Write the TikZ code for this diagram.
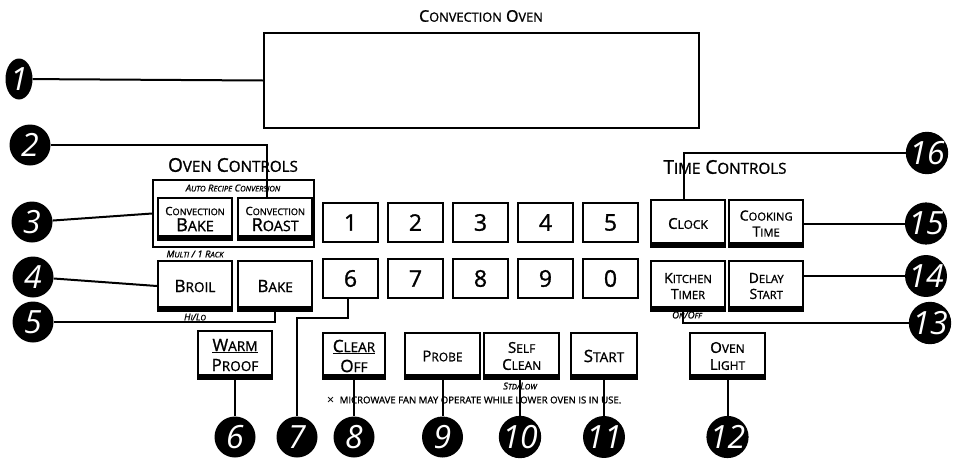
\documentclass[tikz,border=0pt]{standalone}
\usepackage{fontspec}
\setmainfont{Open Sans}[UprightFeatures={FakeBold=1.2}, ItalicFeatures={FakeBold=1.2}]
\newfontfamily\symfont{DejaVu Sans}
\newfontfamily\badgefont{Open Sans}
\usetikzlibrary{shapes.geometric, positioning}
% fake small caps: big first letter, rest smaller
\newcommand{\sk}[2]{#1{\fontsize{0.8em}{1em}\selectfont #2}}
\newcommand{\smline}[1]{{\fontsize{11.5}{13}\selectfont #1}}
\newcommand{\bgline}[1]{{\fontsize{18}{20}\selectfont #1}}
\tikzstyle{btn} = [rectangle, draw, line width=2.2pt, fill=white, align=center, minimum width=74pt, minimum height=48pt, inner sep=1pt, font=\fontsize{13}{16}\selectfont]
\tikzstyle{numkey} = [rectangle, draw, line width=2pt, fill=white, minimum width=55pt, minimum height=39pt, font=\fontsize{23}{23}\selectfont]
\tikzstyle{badge} = [circle, fill=black, minimum size=41pt, inner sep=0pt, text=white, font=\fontsize{32}{32}\badgefont\itshape]
\tikzstyle{head} = [font=\fontsize{16}{16}\selectfont, inner sep=0pt]
\tikzstyle{tag} = [font=\fontsize{9.5}{10}\selectfont\itshape, inner sep=0pt]
\tikzstyle{lead} = [line width=2pt]

\begin{document}
\begin{tikzpicture}[x=1pt, y=-1pt]
        \useasboundingbox (0,0) rectangle (953,458);

        % Display
        \node (ttl) [head] at (481,16) {\sk{C}{ONVECTION} \sk{O}{VEN}};
        \node (disp) [draw, line width=2.5pt, minimum width=435pt, minimum height=95pt] at (481.5,80.5) {};

        % Oven controls
        \node (ovhead) [head, font=\fontsize{19}{19}\selectfont] at (233,165) {\sk{O}{VEN} \sk{C}{ONTROLS}};
        \node (grp) [draw, line width=1.8pt, minimum width=161pt, minimum height=67pt] at (233.5,213.5) {};
        \node (auto) [tag] at (233,188) {\sk{A}{UTO} \sk{R}{ECIPE} \sk{C}{ONVERSION}};
        \node (cbake) [btn, minimum height=42pt] at (195,219) {\smline{\sk{C}{ONVECTION}}\\\bgline{\sk{B}{AKE}}};
        \node (croast) [btn, minimum height=42pt, right=4pt of cbake] {\smline{\sk{C}{ONVECTION}}\\\bgline{\sk{R}{OAST}}};
        \node (multi) [tag] at (195,254) {\sk{M}{ULTI} / 1 \sk{R}{ACK}};
        \node (broil) [btn, minimum height=50pt, font=\fontsize{17}{19}\selectfont] at (195,286) {\sk{B}{ROIL}};
        \node (bake) [btn, minimum height=50pt, font=\fontsize{17}{19}\selectfont, right=4pt of broil] {\sk{B}{AKE}};
        \node (hilo) [tag] at (195,317) {\sk{H}{I}/\sk{L}{O}};
        \node (warm) [btn, minimum height=48pt, font=\fontsize{17}{20}\selectfont] at (235,355) {\underline{\sk{W}{ARM}}\\\sk{P}{ROOF}};

        % Number pad
        \node (k1) [numkey] at (350.5,222.5) {1};
        \node (k2) [numkey, right=8pt of k1] {2};
        \node (k3) [numkey, right=8pt of k2] {3};
        \node (k4) [numkey, right=8pt of k3] {4};
        \node (k5) [numkey, right=8pt of k4] {5};
        \node (k6) [numkey] at (350.5,278.5) {6};
        \node (k7) [numkey, right=8pt of k6] {7};
        \node (k8) [numkey, right=8pt of k7] {8};
        \node (k9) [numkey, right=8pt of k8] {9};
        \node (k0) [numkey, right=8pt of k9] {0};

        % Bottom row
        \node (clear) [btn, minimum width=62pt, minimum height=46pt, font=\fontsize{17}{20}\selectfont] at (354,356) {\underline{\sk{C}{LEAR}}\\\sk{O}{FF}};
        \node (probe) [btn, minimum width=75pt, minimum height=46pt, font=\fontsize{15}{17}\selectfont] at (442.5,356) {\sk{P}{ROBE}};
        \node (clean) [btn, minimum width=75pt, minimum height=46pt, font=\fontsize{15}{17}\selectfont, right=2pt of probe] {\sk{S}{ELF}\\\sk{C}{LEAN}};
        \node (start) [btn, minimum width=66pt, minimum height=46pt, font=\fontsize{17}{19}\selectfont] at (604,356) {\sk{S}{TART}};
        \node (stdlow) [tag] at (520,386) {\sk{S}{TD}/\sk{L}{OW}};
        \node (note) [inner sep=0pt, font=\fontsize{9.6}{10}\selectfont] at (474,400) {{\symfont ✕}\ \ MICROWAVE FAN MAY OPERATE WHILE LOWER OVEN IS IN USE.};

        % Time controls
        \node (tmhead) [head, font=\fontsize{19}{19}\selectfont] at (725,167) {\sk{T}{IME} \sk{C}{ONTROLS}};
        \node (clock) [btn, minimum height=47pt, font=\fontsize{15}{17}\selectfont] at (688,223.5) {\sk{C}{LOCK}};
        \node (cook) [btn, minimum height=47pt, font=\fontsize{14}{16}\selectfont, right=2pt of clock] {\sk{C}{OOKING}\\\sk{T}{IME}};
        \node (ktimer) [btn, minimum height=50pt, font=\fontsize{14}{16}\selectfont] at (688,286) {\sk{K}{ITCHEN}\\\sk{T}{IMER}};
        \node (delay) [btn, minimum height=50pt, font=\fontsize{14}{16}\selectfont, right=2pt of ktimer] {\sk{D}{ELAY}\\\sk{S}{TART}};
        \node (onoff) [tag] at (687,315) {\sk{O}{N}/\sk{O}{FF}};
        \node (light) [btn, minimum width=75pt, minimum height=46pt, font=\fontsize{15}{17}\selectfont] at (727.5,356) {\sk{O}{VEN}\\\sk{L}{IGHT}};

        % thick bottom edge of the buttons
        \foreach \b in {cbake, croast, broil, bake, warm, clear, probe, clean, start, clock, cook, ktimer, delay, light}
            \fill ([shift={(1pt,1pt)}]\b.south west) rectangle ([shift={(-1pt,6pt)}]\b.south east);

        % Callouts
        \node (c1) [badge, ellipse, minimum width=27pt, minimum height=41pt] at (19,79) {1};
        \node (c2) [badge] at (30,145) {2};
        \node (c3) [badge] at (32,222) {3};
        \node (c4) [badge] at (33,277) {4};
        \node (c5) [badge] at (33,322) {5};
        \node (c6) [badge] at (235,437) {6};
        \node (c7) [badge] at (297,437) {7};
        \node (c8) [badge] at (354,437) {8};
        \node (c9) [badge] at (442.5,437) {9};
        \node (c10) [badge] at (520,437) {10};
        \node (c11) [badge] at (604,437) {11};
        \node (c12) [badge] at (727.5,437) {12};
        \node (c13) [badge] at (930,323) {13};
        \node (c14) [badge] at (926,276) {14};
        \node (c15) [badge] at (926,223.5) {15};
        \node (c16) [badge] at (927,153) {16};
        \coordinate (j7) at (297,318);

        % Leader lines
        \draw [lead] (c1) -- (disp.west);
        \draw [lead] (c2) -| ([xshift=-8pt]croast.north);
        \draw [lead] (c3) -- (grp.west);
        \draw [lead] (c4) -- (broil.west);
        \draw [lead] (c5) -| (bake.south);
        \draw [lead] (warm) -- (c6);
        \draw [lead] ([xshift=-3pt]k6.south) |- (j7) -- (c7);
        \draw [lead] (clear.south) -- (c8);
        \draw [lead] (probe.south) -- (c9);
        \draw [lead] (clean.south -| c10) -- (c10);
        \draw [lead] (start.south) -- (c11);
        \draw [lead] (light.south) -- (c12);
        \draw [lead] (c13) -| ([xshift=-5pt]ktimer.south);
        \draw [lead] ([yshift=10pt]delay.east) -- (c14);
        \draw [lead] (cook.east) -- (c15);
        \draw [lead] (c16) -| ([xshift=-4pt]clock.north);
    \end{tikzpicture}
\end{document}
